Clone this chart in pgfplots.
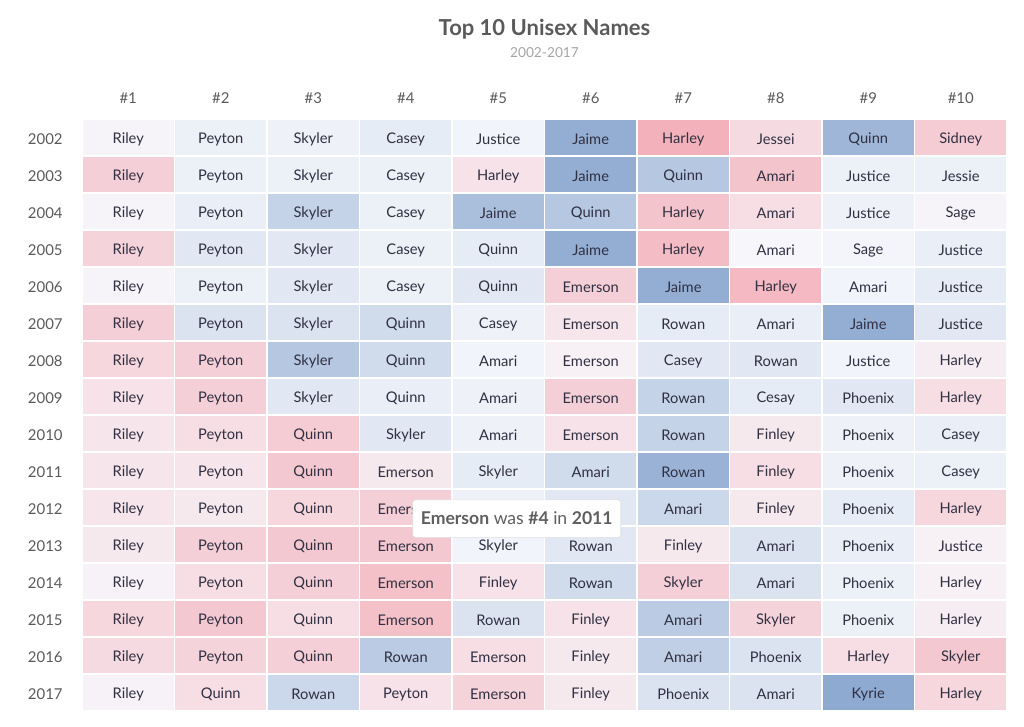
\documentclass[border=0pt]{standalone}
\usepackage{pgfplots}
\usepackage{pgfplotstable}
\pgfplotsset{compat=1.18}
\usepackage{fontspec}
\setmainfont{Lato}
\definecolor{celltext}{RGB}{48,48,66}
\definecolor{labgray}{RGB}{90,90,90}
\definecolor{subgray}{RGB}{165,165,165}
\definecolor{tipgray}{RGB}{95,95,95}

\pgfplotstableread{
x y c name
0 2002 0.05 Riley
1 2002 -0.10 Peyton
2 2002 -0.08 Skyler
3 2002 -0.15 Casey
4 2002 -0.05 Justice
5 2002 -0.90 Jaime
6 2002 0.95 Harley
7 2002 0.40 Jessei
8 2002 -0.80 Quinn
9 2002 0.60 Sidney
0 2003 0.55 Riley
1 2003 -0.10 Peyton
2 2003 -0.10 Skyler
3 2003 -0.10 Casey
4 2003 0.30 Harley
5 2003 -0.90 Jaime
6 2003 -0.60 Quinn
7 2003 0.70 Amari
8 2003 -0.10 Justice
9 2003 -0.10 Jessie
0 2004 0.05 Riley
1 2004 -0.12 Peyton
2 2004 -0.45 Skyler
3 2004 -0.10 Casey
4 2004 -0.70 Jaime
5 2004 -0.60 Quinn
6 2004 0.70 Harley
7 2004 0.35 Amari
8 2004 -0.08 Justice
9 2004 0.05 Sage
0 2005 0.50 Riley
1 2005 -0.20 Peyton
2 2005 -0.20 Skyler
3 2005 -0.10 Casey
4 2005 -0.15 Quinn
5 2005 -0.90 Jaime
6 2005 0.80 Harley
7 2005 0.02 Amari
8 2005 -0.03 Sage
9 2005 -0.12 Justice
0 2006 0.05 Riley
1 2006 -0.10 Peyton
2 2006 -0.20 Skyler
3 2006 -0.10 Casey
4 2006 -0.20 Quinn
5 2006 0.55 Emerson
6 2006 -0.90 Jaime
7 2006 0.85 Harley
8 2006 -0.05 Amari
9 2006 -0.15 Justice
0 2007 0.55 Riley
1 2007 -0.25 Peyton
2 2007 -0.25 Skyler
3 2007 -0.35 Quinn
4 2007 -0.08 Casey
5 2007 0.25 Emerson
6 2007 -0.15 Rowan
7 2007 -0.12 Amari
8 2007 -0.90 Jaime
9 2007 -0.20 Justice
0 2008 0.45 Riley
1 2008 0.55 Peyton
2 2008 -0.60 Skyler
3 2008 -0.35 Quinn
4 2008 -0.05 Amari
5 2008 0.10 Emerson
6 2008 -0.20 Casey
7 2008 -0.20 Rowan
8 2008 -0.05 Justice
9 2008 0.15 Harley
0 2009 0.30 Riley
1 2009 0.55 Peyton
2 2009 -0.20 Skyler
3 2009 -0.12 Quinn
4 2009 -0.08 Amari
5 2009 0.55 Emerson
6 2009 -0.45 Rowan
7 2009 -0.15 Cesay
8 2009 -0.20 Phoenix
9 2009 0.35 Harley
0 2010 0.25 Riley
1 2010 0.35 Peyton
2 2010 0.60 Quinn
3 2010 -0.20 Skyler
4 2010 -0.08 Amari
5 2010 0.30 Emerson
6 2010 -0.45 Rowan
7 2010 0.20 Finley
8 2010 -0.08 Phoenix
9 2010 -0.12 Casey
0 2011 0.25 Riley
1 2011 0.25 Peyton
2 2011 0.65 Quinn
3 2011 0.20 Emerson
4 2011 -0.15 Skyler
5 2011 -0.35 Amari
6 2011 -0.85 Rowan
7 2011 0.35 Finley
8 2011 -0.08 Phoenix
9 2011 -0.10 Casey
0 2012 0.25 Riley
1 2012 0.20 Peyton
2 2012 0.45 Quinn
3 2012 0.55 Emerson
4 2012 -0.08 {}
5 2012 -0.20 {}
6 2012 -0.40 Amari
7 2012 0.20 Finley
8 2012 -0.15 Phoenix
9 2012 0.45 Harley
0 2013 0.20 Riley
1 2013 0.55 Peyton
2 2013 0.65 Quinn
3 2013 0.65 Emerson
4 2013 -0.05 Skyler
5 2013 -0.20 Rowan
6 2013 0.20 Finley
7 2013 -0.25 Amari
8 2013 -0.12 Phoenix
9 2013 0.10 Justice
0 2014 0.08 Riley
1 2014 0.35 Peyton
2 2014 0.55 Quinn
3 2014 0.75 Emerson
4 2014 0.30 Finley
5 2014 -0.35 Rowan
6 2014 0.55 Skyler
7 2014 -0.25 Amari
8 2014 -0.10 Phoenix
9 2014 0.10 Harley
0 2015 0.45 Riley
1 2015 0.65 Peyton
2 2015 0.35 Quinn
3 2015 0.75 Emerson
4 2015 -0.25 Rowan
5 2015 0.30 Finley
6 2015 -0.55 Amari
7 2015 0.50 Skyler
8 2015 -0.10 Phoenix
9 2015 0.15 Harley
0 2016 0.40 Riley
1 2016 0.50 Peyton
2 2016 0.55 Quinn
3 2016 -0.55 Rowan
4 2016 0.35 Emerson
5 2016 0.20 Finley
6 2016 -0.50 Amari
7 2016 -0.25 Phoenix
8 2016 0.35 Harley
9 2016 0.65 Skyler
0 2017 0.08 Riley
1 2017 0.35 Quinn
2 2017 -0.40 Rowan
3 2017 0.30 Peyton
4 2017 0.50 Emerson
5 2017 0.20 Finley
6 2017 -0.25 Phoenix
7 2017 -0.25 Amari
8 2017 -0.95 Kyrie
9 2017 0.45 Harley
}\names

\begin{document}
\begin{tikzpicture}
\useasboundingbox (-61.5pt,-11.25pt) rectangle (706.5pt,533.25pt);
\begin{axis}[
  scale only axis,
  width=693.75pt, height=444pt,
  xmin=-0.5, xmax=9.5, ymin=2001.5, ymax=2017.5,
  y dir=reverse,
  axis line style={draw=none},
  major tick length=0pt,
  xtick={0,...,9},
  xticklabels={\#1,\#2,\#3,\#4,\#5,\#6,\#7,\#8,\#9,\#10},
  xticklabel pos=upper,
  ytick={2002,...,2017},
  yticklabel style={/pgf/number format/1000 sep={}},
  /pgf/number format/assume math mode=true,
  ticklabel style={font=\fontsize{11.2}{13}\selectfont, text=labgray},
  xticklabel style={yshift=8pt},
  yticklabel style={xshift=-11pt, yshift=-1pt},
  colormap={rb}{rgb255=(137,166,207) rgb255=(247,248,252) rgb255=(243,174,184)},
  point meta min=-1, point meta max=1,
  clip=false,
]
\addplot[matrix plot, mesh/cols=10, point meta=explicit,
  shader=faceted, faceted color=white, line width=1pt]
  table[x=x, y=y, meta=c] {\names};
\addplot[only marks, mark=*, mark size=0pt,
  nodes near coords, nodes near coords align=center,
  point meta=explicit symbolic,
  nodes near coords style={font=\fontsize{11}{13}\selectfont, text=celltext, anchor=center, yshift=-1.5pt}]
  table[x=x, y=y, meta=name] {\names};
\node[font=\fontsize{16.5}{19}\selectfont\bfseries, text=labgray]
  at (axis description cs:0.5,1) [yshift=67pt] {Top 10 Unisex Names};
\node[font=\fontsize{10.3}{12}\selectfont, text=subgray]
  at (axis description cs:0.5,1) [yshift=49.5pt] {2002-2017};
\coordinate (tip) at (axis cs:4.2,2012.3);
\end{axis}
\node[draw=black!12, fill=white, rounded corners=2pt, text=tipgray,
  minimum width=156pt, minimum height=28pt, inner sep=3pt,
  font=\fontsize{13.2}{15}\selectfont]
  at (tip) {\textbf{Emerson} was \textbf{\#4} in \textbf{2011}};
\end{tikzpicture}
\end{document}
